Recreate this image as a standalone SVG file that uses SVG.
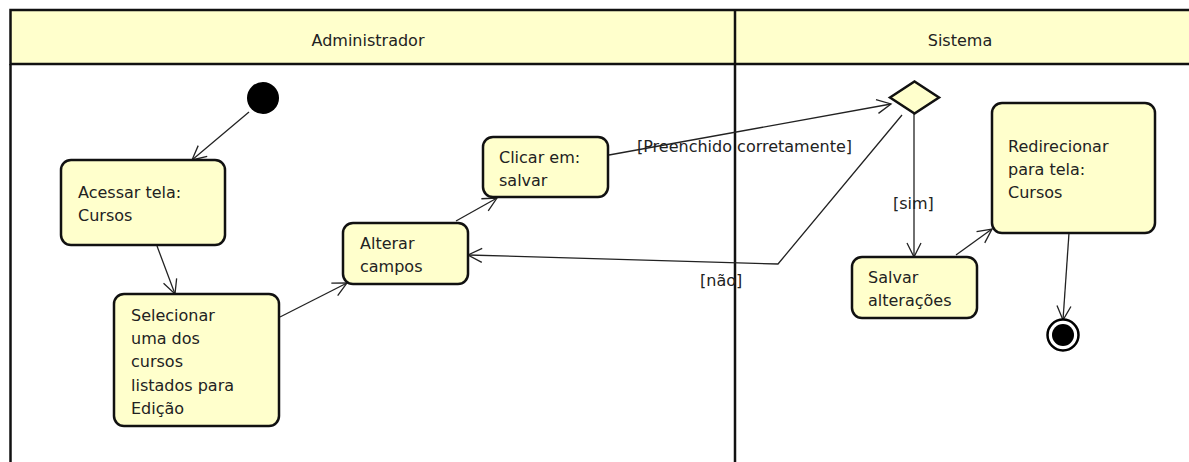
<svg xmlns="http://www.w3.org/2000/svg" width="1189" height="462" viewBox="0 0 1189 462">
<style>
text{font-family:"DejaVu Sans","Liberation Sans",sans-serif;font-size:16px;fill:#222}
.lane{fill:none;stroke:#111;stroke-width:2.5}
.hdr{fill:#FFFFCC;stroke:#111;stroke-width:2.5}
.act{fill:#FFFFCC;stroke:#111;stroke-width:2.5}
.edge{fill:none;stroke:#222;stroke-width:1.3;marker-end:url(#arr)}
.mid{text-anchor:middle}
</style>
<defs>
<marker id="arr" markerUnits="userSpaceOnUse" markerWidth="20" markerHeight="20" refX="15" refY="8" orient="auto">
<path d="M1,1 L15,8 L1,15" fill="none" stroke="#222" stroke-width="1.3"/>
</marker>
</defs>
<g id="swimlanes">
<rect class="hdr" x="10.5" y="10" width="1190" height="54"/>
<line class="lane" x1="10.5" y1="64" x2="10.5" y2="470"/>
<line class="lane" x1="735" y1="10" x2="735" y2="470"/>
<text class="mid" x="368" y="46">Administrador</text>
<text class="mid" x="960" y="46">Sistema</text>
</g>
<g id="connectors">
<line class="edge" x1="249" y1="112" x2="192" y2="160"/>
<line class="edge" x1="157" y1="246" x2="175" y2="294"/>
<line class="edge" x1="280" y1="317" x2="347" y2="283"/>
<line class="edge" x1="456" y1="221" x2="497" y2="198"/>
<line class="edge" x1="609" y1="155" x2="891" y2="104"/>
<polyline class="edge" points="902,115 778,264 468,255"/>
<line class="edge" x1="914" y1="113" x2="914" y2="257"/>
<line class="edge" x1="956" y1="255" x2="992" y2="229"/>
<line class="edge" x1="1069" y1="233" x2="1063" y2="320"/>
<text x="637" y="152">[Preenchido corretamente]</text>
<text x="700" y="286">[não]</text>
<text x="893" y="209">[sim]</text>
</g>
<g id="start"><circle cx="263" cy="98" r="16" fill="#000"/></g>
<g id="acessar">
<rect class="act" x="61" y="160" width="164" height="85" rx="10"/>
<text x="78" y="198">Acessar tela:</text>
<text x="78" y="221">Cursos</text>
</g>
<g id="selecionar">
<rect class="act" x="114" y="294" width="165" height="132" rx="10"/>
<text x="131" y="321">Selecionar</text>
<text x="131" y="344">uma dos</text>
<text x="131" y="367">cursos</text>
<text x="131" y="391">listados para</text>
<text x="131" y="414">Edição</text>
</g>
<g id="alterar">
<rect class="act" x="343" y="223" width="125" height="61" rx="10"/>
<text x="360" y="249">Alterar</text>
<text x="360" y="272">campos</text>
</g>
<g id="clicar">
<rect class="act" x="483" y="137" width="125" height="60" rx="10"/>
<text x="499" y="163">Clicar em:</text>
<text x="499" y="186">salvar</text>
</g>
<g id="decision"><polygon class="act" points="890,97.5 914.5,81.5 939,97.5 914.5,113.5"/></g>
<g id="salvar">
<rect class="act" x="852" y="257" width="125" height="61" rx="10"/>
<text x="868" y="283">Salvar</text>
<text x="868" y="306">alterações</text>
</g>
<g id="redirecionar">
<rect class="act" x="992" y="103" width="163" height="130" rx="10"/>
<text x="1008" y="152">Redirecionar</text>
<text x="1008" y="175">para tela:</text>
<text x="1008" y="198">Cursos</text>
</g>
<g id="end">
<circle cx="1063" cy="335" r="15.5" fill="#fff" stroke="#000" stroke-width="2.5"/>
<circle cx="1063" cy="335" r="11" fill="#000"/>
</g>
</svg>
